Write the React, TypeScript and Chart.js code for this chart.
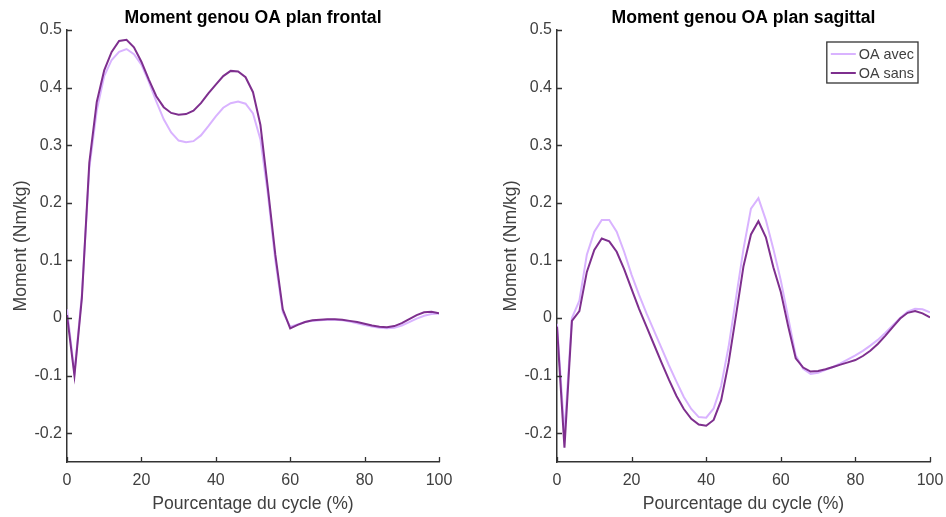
import React, { useEffect, useRef } from "react";
import { Chart, registerables } from "chart.js";

Chart.register(...registerables);

// ---------- DATA ----------
const cyclePct = [
  0, 2, 4, 6, 8, 10, 12, 14, 16, 18, 20, 22, 24, 26, 28, 30, 32, 34, 36, 38, 40,
  42, 44, 46, 48, 50, 52, 54, 56, 58, 60, 62, 64, 66, 68, 70, 72, 74, 76, 78, 80,
  82, 84, 86, 88, 90, 92, 94, 96, 98, 100,
];

const frontalAvec = [
  0.015, -0.095, 0.04, 0.26, 0.36, 0.42, 0.448, 0.462, 0.467, 0.458, 0.44,
  0.41, 0.376, 0.345, 0.322, 0.308, 0.305, 0.307, 0.317, 0.333, 0.35,
  0.365, 0.373, 0.376, 0.372, 0.355, 0.31, 0.215, 0.1, 0.01, -0.015,
  -0.011, -0.007, -0.005, -0.004, -0.003, -0.003, -0.004, -0.006, -0.009, -0.012,
  -0.015, -0.017, -0.018, -0.017, -0.013, -0.007, -0.001, 0.004, 0.007, 0.008,
];

const frontalSans = [
  0.005, -0.1, 0.035, 0.27, 0.375, 0.43, 0.462, 0.481, 0.483, 0.47, 0.445,
  0.414, 0.385, 0.366, 0.356, 0.353, 0.354, 0.36, 0.373, 0.39, 0.405,
  0.42, 0.429, 0.428, 0.418, 0.392, 0.335, 0.225, 0.11, 0.015, -0.018,
  -0.012, -0.007, -0.004, -0.003, -0.002, -0.002, -0.003, -0.005, -0.007, -0.01,
  -0.013, -0.015, -0.016, -0.014, -0.009, -0.002, 0.005, 0.01, 0.011, 0.008,
];

const sagittalAvec = [
  -0.01, -0.2, 0.0, 0.03, 0.11, 0.15, 0.17, 0.17, 0.15, 0.115, 0.075,
  0.04, 0.008, -0.022, -0.052, -0.082, -0.11, -0.137, -0.158, -0.172, -0.173,
  -0.157, -0.118, -0.05, 0.035, 0.12, 0.19, 0.208, 0.17, 0.12, 0.065,
  0.0, -0.065, -0.088, -0.097, -0.095, -0.09, -0.085, -0.079, -0.072, -0.065,
  -0.057, -0.048, -0.038, -0.026, -0.013, 0.0, 0.011, 0.016, 0.015, 0.01,
];

const sagittalSans = [
  -0.015, -0.225, -0.005, 0.012, 0.08, 0.118, 0.138, 0.133, 0.115, 0.085, 0.05,
  0.016, -0.015, -0.046, -0.077, -0.107, -0.135, -0.158, -0.175, -0.185, -0.187,
  -0.177, -0.143, -0.078, 0.005, 0.09, 0.145, 0.168, 0.14, 0.088, 0.045,
  -0.015, -0.07, -0.086, -0.093, -0.092, -0.089, -0.085, -0.081, -0.077, -0.073,
  -0.066, -0.057, -0.045, -0.031, -0.016, -0.001, 0.009, 0.012, 0.008, 0.001,
];

const yTickValues = [-0.2, -0.1, 0, 0.1, 0.2, 0.3, 0.4, 0.5];
const xTickValues = [0, 20, 40, 60, 80, 100];

const seriesLabels = ["OA avec", "OA sans"];
const titles = ["Moment genou OA plan frontal", "Moment genou OA plan sagittal"];
const xTitle = "Pourcentage du cycle (%)";
const yTitle = "Moment (Nm/kg)";

// ---------- STYLE ----------
const FONT = '"Liberation Sans", Arial, Helvetica, sans-serif';
const AXIS = "#333333";
const TEXT = "#404040";
const LIGHT = "#D9B3FF";
const DARK = "#7E2F8E";

const inwardTicks = {
  id: "inwardTicks",
  afterDraw(chart: any) {
    const { ctx, chartArea, scales } = chart;
    ctx.save();
    ctx.strokeStyle = AXIS;
    ctx.lineWidth = 1.3;
    ctx.beginPath();
    scales.x.ticks.forEach((t: any) => {
      const px = Math.round(scales.x.getPixelForValue(t.value)) + 0.5;
      ctx.moveTo(px, chartArea.bottom);
      ctx.lineTo(px, chartArea.bottom - 5);
    });
    scales.y.ticks.forEach((t: any) => {
      const py = Math.round(scales.y.getPixelForValue(t.value)) + 0.5;
      ctx.moveTo(chartArea.left, py);
      ctx.lineTo(chartArea.left + 5, py);
    });
    ctx.stroke();
    ctx.restore();
  },
};

const boxLegend = {
  id: "boxLegend",
  afterDraw(chart: any, _args: any, opts: any) {
    if (!opts || !opts.show) return;
    const { ctx, chartArea } = chart;
    const ds = chart.data.datasets;
    ctx.save();
    ctx.font = `14.4px ${FONT}`;
    const tw = Math.max(...ds.map((d: any) => ctx.measureText(d.label).width));
    const padL = 4, lineLen = 25, gap = 3, padR = 4, rowH = 19;
    const w = padL + lineLen + gap + tw + padR;
    const h = 41;
    const right = chartArea.right - 12;
    const top = chartArea.top + 12;
    const left = right - w;
    ctx.fillStyle = "#ffffff";
    ctx.fillRect(left, top, w, h);
    ctx.strokeStyle = AXIS;
    ctx.lineWidth = 1.3;
    ctx.strokeRect(left, top, w, h);
    ds.forEach((d: any, i: number) => {
      const y = top + 12 + i * rowH;
      ctx.strokeStyle = d.borderColor;
      ctx.lineWidth = 2;
      ctx.beginPath();
      ctx.moveTo(left + padL, y);
      ctx.lineTo(left + padL + lineLen, y);
      ctx.stroke();
      ctx.fillStyle = TEXT;
      ctx.textBaseline = "middle";
      ctx.textAlign = "left";
      ctx.fillText(d.label, left + padL + lineLen + gap, y + 1);
    });
    ctx.restore();
  },
};

function makeConfig(
  title: string,
  avec: number[],
  sans: number[],
  yAxisWidth: number,
  padRight: number,
  yTitlePad: number,
  showLegend: boolean
): any {
  return {
    type: "line",
    data: {
      labels: cyclePct,
      datasets: [
        {
          label: seriesLabels[0],
          data: cyclePct.map((x, i) => ({ x, y: avec[i] })),
          borderColor: LIGHT,
          backgroundColor: LIGHT,
          borderWidth: 2,
          pointRadius: 0,
          tension: 0,
          order: 1,
        },
        {
          label: seriesLabels[1],
          data: cyclePct.map((x, i) => ({ x, y: sans[i] })),
          borderColor: DARK,
          backgroundColor: DARK,
          borderWidth: 2,
          pointRadius: 0,
          tension: 0,
          order: 0,
        },
      ],
    },
    options: {
      responsive: false,
      animation: false,
      layout: { padding: { left: 0, right: padRight, top: 0, bottom: 0 } },
      plugins: {
        legend: { display: false },
        tooltip: { enabled: false },
        title: {
          display: true,
          text: title,
          fullSize: false,
          color: "#000000",
          font: { family: FONT, size: 17.6, weight: "bold" },
          padding: { top: 7.5, bottom: 1.38 },
        },
        boxLegend: { show: showLegend },
      },
      scales: {
        x: {
          type: "linear",
          min: 0,
          max: 100,
          afterBuildTicks: (s: any) => {
            s.ticks = xTickValues.map((v) => ({ value: v }));
          },
          afterFit: (s: any) => {
            s.height = 55;
            s.paddingLeft = 0;
            s.paddingRight = 0;
          },
          grid: { display: false, drawTicks: false, tickLength: 0 },
          border: { display: true, color: AXIS, width: 1.5 },
          ticks: {
            color: TEXT,
            font: { family: FONT, size: 16 },
            padding: 9,
            maxRotation: 0,
            callback: (v: any) => String(v),
          },
          title: {
            display: true,
            text: xTitle,
            color: TEXT,
            font: { family: FONT, size: 17.6 },
            padding: { top: 0, bottom: 2.5 },
          },
        },
        y: {
          type: "linear",
          min: -0.25,
          max: 0.5,
          afterBuildTicks: (s: any) => {
            s.ticks = yTickValues.map((v) => ({ value: v }));
          },
          afterFit: (s: any) => {
            s.width = yAxisWidth;
          },
          grid: { display: false, drawTicks: false, tickLength: 0 },
          border: { display: true, color: AXIS, width: 1.5 },
          ticks: {
            color: TEXT,
            font: { family: FONT, size: 16 },
            padding: 5,
            callback: (v: any) => String(Number(Number(v).toFixed(1))),
          },
          title: {
            display: true,
            text: yTitle,
            color: TEXT,
            font: { family: FONT, size: 17.6 },
            padding: { top: yTitlePad, bottom: 0 },
          },
        },
      },
    },
    plugins: [inwardTicks, boxLegend],
  };
}

export default function App() {
  const leftRef = useRef<HTMLCanvasElement>(null);
  const rightRef = useRef<HTMLCanvasElement>(null);

  useEffect(() => {
    const c1 = new Chart(
      leftRef.current as HTMLCanvasElement,
      makeConfig(titles[0], frontalAvec, frontalSans, 67, 34, 11, false)
    );
    const c2 = new Chart(
      rightRef.current as HTMLCanvasElement,
      makeConfig(titles[1], sagittalAvec, sagittalSans, 84, 16, 28, true)
    );
    return () => {
      c1.destroy();
      c2.destroy();
    };
  }, []);

  return (
    <div
      style={{
        position: "absolute",
        left: 0,
        top: 0,
        width: 946,
        height: 517,
        background: "#ffffff",
        overflow: "hidden",
      }}
    >
      <canvas
        ref={leftRef}
        width={473}
        height={517}
        style={{ position: "absolute", left: 0, top: 0, display: "block" }}
      />
      <canvas
        ref={rightRef}
        width={473}
        height={517}
        style={{ position: "absolute", left: 473, top: 0, display: "block" }}
      />
    </div>
  );
}
